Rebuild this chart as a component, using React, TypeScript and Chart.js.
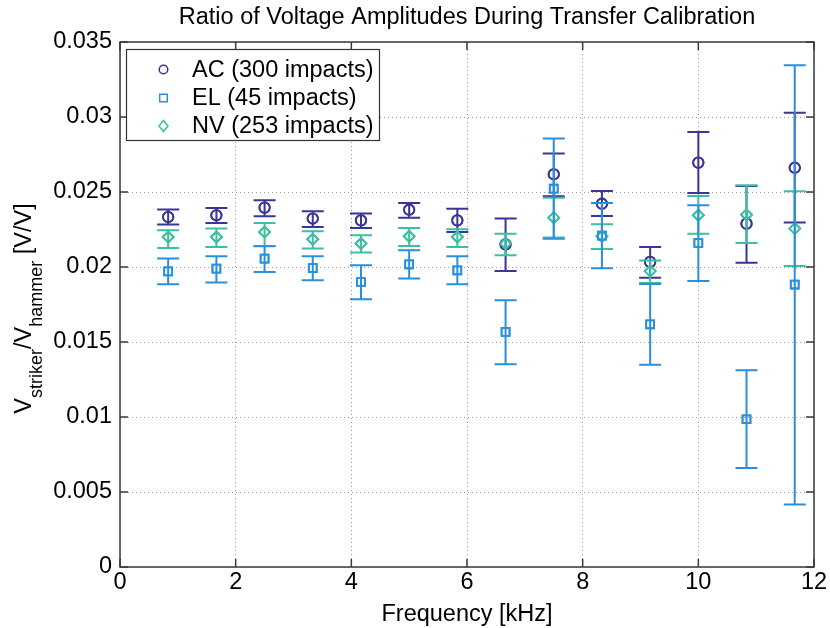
import React, { useEffect, useRef } from 'react';
import { Chart, registerables } from 'chart.js';

Chart.register(...registerables);

const chartTitle = 'Ratio of Voltage Amplitudes During Transfer Calibration';
const xAxisTitle = 'Frequency [kHz]';
const xTickLabels = ['0', '2', '4', '6', '8', '10', '12'];
const yTickLabels = ['0', '0.005', '0.01', '0.015', '0.02', '0.025', '0.03', '0.035'];

const frequencies = [0.833, 1.667, 2.5, 3.333, 4.167, 5.0, 5.833, 6.667, 7.5, 8.333, 9.167, 10.0, 10.833, 11.667];

const acValues = [0.02333, 0.02345, 0.02396, 0.02323, 0.02311, 0.02382, 0.02311, 0.02151, 0.02618, 0.02422, 0.02034, 0.02696, 0.02289, 0.02662];
const acLower = [0.02283, 0.02293, 0.02338, 0.02267, 0.0226, 0.02329, 0.02233, 0.01973, 0.02471, 0.0234, 0.01929, 0.02493, 0.02029, 0.02296];
const acUpper = [0.02383, 0.02393, 0.02445, 0.02371, 0.02356, 0.02427, 0.02389, 0.02323, 0.02756, 0.02507, 0.02133, 0.029, 0.0254, 0.03029];

const elValues = [0.01971, 0.01989, 0.02056, 0.01993, 0.019, 0.02018, 0.01978, 0.01567, 0.02522, 0.02209, 0.01618, 0.0216, 0.00985, 0.01883];
const elLower = [0.01885, 0.01896, 0.01967, 0.01911, 0.01785, 0.01923, 0.01885, 0.01351, 0.02189, 0.01991, 0.01349, 0.01907, 0.0066, 0.00416];
const elUpper = [0.02056, 0.02071, 0.02138, 0.02071, 0.02011, 0.02111, 0.02071, 0.01778, 0.02856, 0.02427, 0.01887, 0.02411, 0.01311, 0.03345];

const nvValues = [0.022, 0.022, 0.02233, 0.02185, 0.02156, 0.02205, 0.022, 0.02156, 0.02329, 0.02205, 0.01973, 0.02345, 0.02349, 0.02256];
const nvLower = [0.02127, 0.02133, 0.0214, 0.02123, 0.02096, 0.0214, 0.02133, 0.02078, 0.02196, 0.0212, 0.01893, 0.02222, 0.0216, 0.02007];
const nvUpper = [0.02245, 0.02256, 0.02293, 0.02238, 0.02211, 0.0226, 0.02251, 0.02222, 0.02462, 0.02285, 0.02044, 0.02473, 0.02545, 0.02505];

const seriesLabels = ['AC (300 impacts)', 'EL (45 impacts)', 'NV (253 impacts)'];

const AC_COLOR = '#3a3596';
const EL_COLOR = '#2a90de';
const NV_COLOR = '#3cbfa2';
const FONT = "'Liberation Sans', Arial, Helvetica, sans-serif";
const FONT_SIZE = 23.5;

const toPoints = (ys: number[]) => frequencies.map((x, i) => ({ x, y: ys[i] }));

const errorBarPlugin = {
  id: 'errorBars',
  afterDatasetDraw(chart: any, args: any) {
    const ds = chart.data.datasets[args.index];
    if (!ds.errLow) return;
    const ctx = chart.ctx;
    const xs = chart.scales.x;
    const ys = chart.scales.y;
    ctx.save();
    ctx.strokeStyle = ds.borderColor;
    ctx.lineWidth = 2;
    const cap = 11;
    for (let i = 0; i < frequencies.length; i++) {
      const px = xs.getPixelForValue(frequencies[i]);
      const yl = ys.getPixelForValue(ds.errLow[i]);
      const yh = ys.getPixelForValue(ds.errHigh[i]);
      ctx.beginPath();
      ctx.moveTo(px, yh);
      ctx.lineTo(px, yl);
      ctx.moveTo(px - cap, yh);
      ctx.lineTo(px + cap, yh);
      ctx.moveTo(px - cap, yl);
      ctx.lineTo(px + cap, yl);
      ctx.stroke();
    }
    ctx.restore();
    const meta = chart.getDatasetMeta(args.index);
    meta.data.forEach((el: any) => el.draw(ctx, chart.chartArea));
  },
};

const decorPlugin = {
  id: 'decor',
  afterDraw(chart: any) {
    const ctx = chart.ctx;
    const area = chart.chartArea;
    const xs = chart.scales.x;
    const ys = chart.scales.y;
    ctx.save();
    ctx.strokeStyle = '#3a3a3a';
    ctx.lineWidth = 1.5;
    ctx.strokeRect(area.left, area.top, area.right - area.left, area.bottom - area.top);
    ctx.beginPath();
    const tl = 8;
    xs.ticks.forEach((t: any) => {
      const px = xs.getPixelForValue(t.value);
      ctx.moveTo(px, area.bottom);
      ctx.lineTo(px, area.bottom - tl);
      ctx.moveTo(px, area.top);
      ctx.lineTo(px, area.top + tl);
    });
    ys.ticks.forEach((t: any) => {
      const py = ys.getPixelForValue(t.value);
      ctx.moveTo(area.left, py);
      ctx.lineTo(area.left + tl, py);
      ctx.moveTo(area.right, py);
      ctx.lineTo(area.right - tl, py);
    });
    ctx.stroke();

    ctx.fillStyle = '#000';
    ctx.font = `${FONT_SIZE}px ${FONT}`;
    ctx.textAlign = 'center';
    ctx.textBaseline = 'alphabetic';
    const cx = (area.left + area.right) / 2;
    ctx.fillText(chartTitle, cx, 24);
    ctx.fillText(xAxisTitle, cx, 621);

    const segs = [
      { t: 'V', sub: false },
      { t: 'striker', sub: true },
      { t: '/V', sub: false },
      { t: 'hammer', sub: true },
      { t: ' [V/V]', sub: false },
    ];
    const mainFont = `${FONT_SIZE}px ${FONT}`;
    const subFont = `18px ${FONT}`;
    let total = 0;
    const widths = segs.map((s) => {
      ctx.font = s.sub ? subFont : mainFont;
      const w = ctx.measureText(s.t).width;
      total += w;
      return w;
    });
    const yc = (area.top + area.bottom) / 2 + 4;
    ctx.translate(31, yc);
    ctx.rotate(-Math.PI / 2);
    ctx.textAlign = 'left';
    let pos = -total / 2;
    segs.forEach((s, i) => {
      ctx.font = s.sub ? subFont : mainFont;
      ctx.fillText(s.t, pos, s.sub ? 11 : 0);
      pos += widths[i];
    });
    ctx.setTransform(1, 0, 0, 1, 0, 0);

    const lx = 126.5, ly = 49.5, lw = 253, lh = 91;
    ctx.fillStyle = '#fff';
    ctx.fillRect(lx, ly, lw, lh);
    ctx.strokeStyle = '#333';
    ctx.lineWidth = 1.2;
    ctx.strokeRect(lx, ly, lw, lh);
    const rows = [69.5, 98, 126];
    const colors = [AC_COLOR, EL_COLOR, NV_COLOR];
    const mx = 163.5;
    ctx.lineWidth = 1.5;
    rows.forEach((ry, i) => {
      ctx.strokeStyle = colors[i];
      ctx.beginPath();
      if (i === 0) {
        ctx.arc(mx, ry, 4.3, 0, Math.PI * 2);
      } else if (i === 1) {
        ctx.rect(mx - 3.8, ry - 3.8, 7.6, 7.6);
      } else {
        ctx.moveTo(mx, ry - 5.5);
        ctx.lineTo(mx + 4.5, ry);
        ctx.lineTo(mx, ry + 5.5);
        ctx.lineTo(mx - 4.5, ry);
        ctx.closePath();
      }
      ctx.stroke();
      ctx.fillStyle = '#000';
      ctx.font = mainFont;
      ctx.textAlign = 'left';
      ctx.textBaseline = 'middle';
      ctx.fillText(seriesLabels[i], 192, ry + 1);
    });
    ctx.restore();
  },
};

export default function App() {
  const canvasRef = useRef<HTMLCanvasElement | null>(null);

  useEffect(() => {
    document.body.style.margin = '0';
    const canvas = canvasRef.current;
    if (!canvas) return;
    const chart = new Chart(canvas, {
      type: 'scatter',
      data: {
        datasets: [
          {
            label: seriesLabels[0],
            data: toPoints(acValues),
            borderColor: AC_COLOR,
            backgroundColor: 'rgba(0,0,0,0)',
            pointStyle: 'circle',
            pointRadius: 5.2,
            pointBorderWidth: 1.8,
            order: 3,
            errLow: acLower,
            errHigh: acUpper,
          } as any,
          {
            label: seriesLabels[1],
            data: toPoints(elValues),
            borderColor: EL_COLOR,
            backgroundColor: 'rgba(0,0,0,0)',
            pointStyle: 'rect',
            pointRadius: 5.6,
            pointBorderWidth: 1.8,
            order: 1,
            errLow: elLower,
            errHigh: elUpper,
          } as any,
          {
            label: seriesLabels[2],
            data: toPoints(nvValues),
            borderColor: NV_COLOR,
            backgroundColor: 'rgba(0,0,0,0)',
            pointStyle: 'rectRot',
            pointRadius: 5.5,
            pointBorderWidth: 1.8,
            order: 2,
            errLow: nvLower,
            errHigh: nvUpper,
          } as any,
        ],
      },
      options: {
        responsive: false,
        animation: false,
        devicePixelRatio: 1,
        layout: { padding: { top: 42, right: 16, left: 0, bottom: 0 } },
        plugins: {
          legend: { display: false },
          title: { display: false },
          tooltip: { enabled: false },
        },
        scales: {
          x: {
            type: 'linear',
            min: 0,
            max: 12,
            ticks: {
              stepSize: 2,
              padding: 1,
              color: '#000',
              font: { family: FONT, size: FONT_SIZE },
              callback: (_v: any, i: number) => xTickLabels[i],
            },
            grid: { color: 'rgba(90,90,90,0.6)', drawTicks: false, lineWidth: 1 },
            border: { display: false, dash: [1, 3] },
            afterFit: (s: any) => {
              s.height = 61;
            },
          },
          y: {
            type: 'linear',
            min: 0,
            max: 0.035,
            ticks: {
              stepSize: 0.005,
              padding: 8,
              color: '#000',
              font: { family: FONT, size: FONT_SIZE },
              callback: (_v: any, i: number) => yTickLabels[i],
            },
            grid: { color: 'rgba(90,90,90,0.6)', drawTicks: false, lineWidth: 1 },
            border: { display: false, dash: [1, 3] },
            afterFit: (s: any) => {
              s.width = 120;
            },
          },
        },
      } as any,
      plugins: [errorBarPlugin, decorPlugin],
    });
    return () => chart.destroy();
  }, []);

  return (
    <div style={{ width: 830, height: 628, background: '#fff' }}>
      <canvas ref={canvasRef} width={830} height={628} style={{ display: 'block' }} />
    </div>
  );
}
